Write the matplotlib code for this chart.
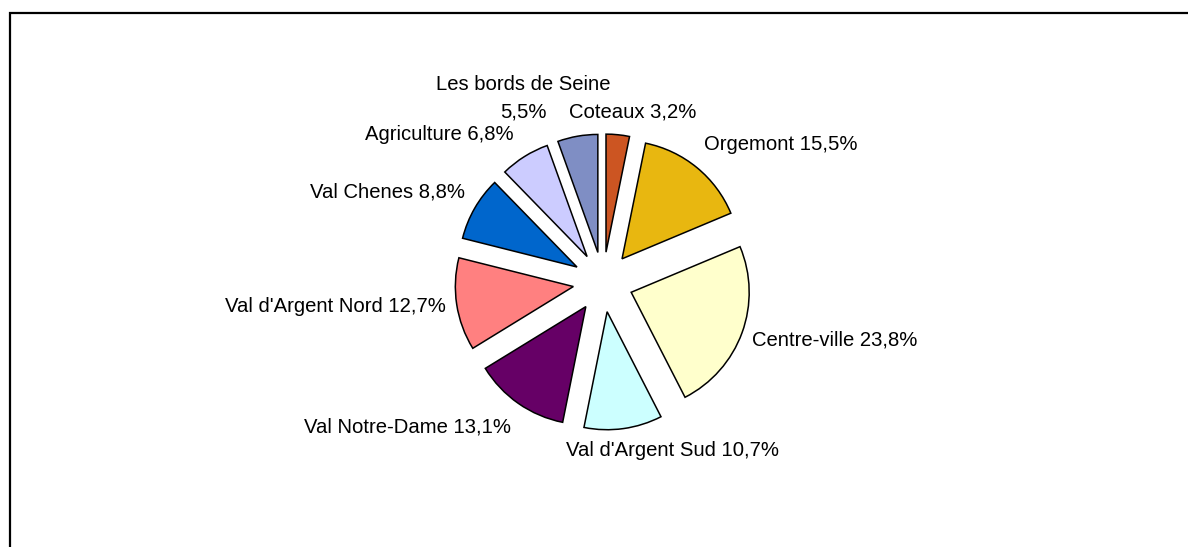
import matplotlib
matplotlib.use("Agg")
import matplotlib.pyplot as plt
from matplotlib.patches import Rectangle

# data (clockwise from 12 o'clock)
quartiers = ["Coteaux", "Orgemont", "Centre-ville", "Val d'Argent Sud",
             "Val Notre-Dame", "Val d'Argent Nord", "Val Chenes",
             "Agriculture", "Les bords de Seine"]
parts = [3.2, 15.5, 23.8, 10.7, 13.1, 12.7, 8.8, 6.8, 5.5]
couleurs = ["#CC5522", "#E8B710", "#FFFFCC", "#CCFFFF", "#660066",
            "#FF8080", "#0066CC", "#CCCCFF", "#7F8EC4"]

W, H = 1188, 547
fig = plt.figure(figsize=(W / 100, H / 100), dpi=100)
ax = fig.add_axes([0, 0, 1, 1])

# pixel layout of the pie
cx, cy, r = 603, 282, 118
ax.pie(parts, colors=couleurs, explode=[30] * len(parts), radius=r,
       center=(cx, H - cy), startangle=90, counterclock=False,
       wedgeprops=dict(edgecolor="black", linewidth=1.1))

ax.set_xlim(0, W)
ax.set_ylim(0, H)
ax.set_aspect("equal")
ax.axis("off")

# label positions (pixel centres)
pos = [(633, 112), (781, 145), (835, 340), (672, 450), (408, 427),
       (335, 307), (387, 192), (439, 135), (523, 112)]
style = dict(ha="center", va="center", fontsize=14.6,
             family="Liberation Sans", color="black")
for nom, p, (x, y) in zip(quartiers, parts, pos):
    val = f"{p:.1f}%".replace(".", ",")
    if nom == "Les bords de Seine":
        # name wraps above the value here
        ax.text(x, H - (y - 27), nom, **style)
        ax.text(x, H - y, val, **style)
    else:
        ax.text(x, H - y, f"{nom} {val}", **style)

# chart frame
fig.patches.append(Rectangle((10 / W, -0.1), 1.2, (H - 13) / H + 0.1,
                             transform=fig.transFigure, fill=False,
                             edgecolor="black", linewidth=1.6))

fig.savefig("out.png", dpi=100, facecolor="white")
